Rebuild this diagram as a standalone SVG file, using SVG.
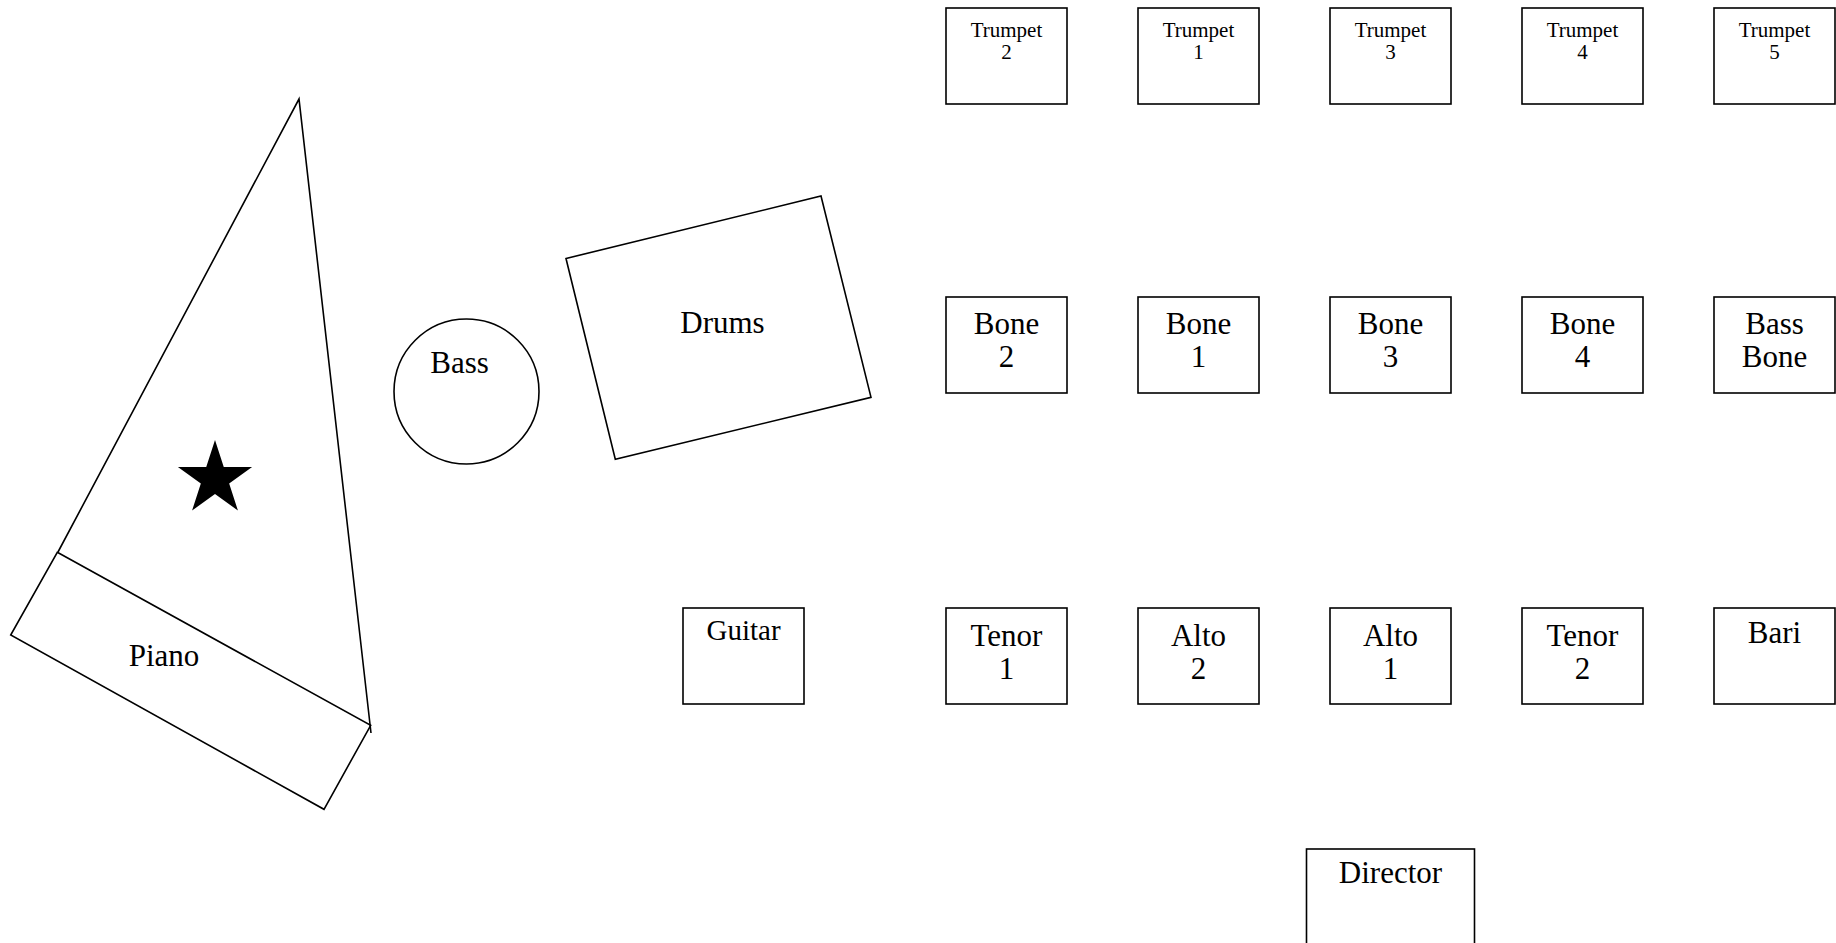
<svg xmlns="http://www.w3.org/2000/svg" width="1836" height="943" viewBox="0 0 1836 943">
<style>
.s{fill:none;stroke:#000;stroke-width:1.6}
text{font-family:"Liberation Serif","Times New Roman",serif;fill:#000;text-anchor:middle}
.t{font-size:21px}
.l{font-size:31px}
.g{font-size:29px}
</style>
<rect x="0" y="0" width="1836" height="943" fill="#fff"/>
<g id="piano">
<polyline class="s" points="58,552 299,99 371,733"/>
<polygon class="s" points="57.3,552.3 370.7,725.3 324,809.3 10.7,635"/>
<polygon points="215,440 223.76,466.95 252.09,466.95 229.17,483.6 237.92,510.55 215,493.9 192.08,510.55 200.83,483.6 177.91,466.95 206.24,466.95" fill="#000"/>
<text class="l" x="164" y="666">Piano</text>
</g>
<g id="bass">
<circle class="s" cx="466.5" cy="391.5" r="72.5"/>
<text class="l" x="459.5" y="372.5">Bass</text>
</g>
<g id="drums">
<polygon class="s" points="566,258.5 821,196 871,397.3 615.3,459.3"/>
<text class="l" x="722.5" y="333">Drums</text>
</g>
<g id="guitar">
<rect class="s" x="683" y="608" width="121" height="96"/>
<text class="g" x="743.5" y="640">Guitar</text>
</g>
<g id="trumpet2"><rect class="s" x="946" y="8" width="121" height="96"/><text class="t" x="1006.5" y="37">Trumpet</text><text class="t" x="1006.5" y="59">2</text></g>
<g id="trumpet1"><rect class="s" x="1138" y="8" width="121" height="96"/><text class="t" x="1198.5" y="37">Trumpet</text><text class="t" x="1198.5" y="59">1</text></g>
<g id="trumpet3"><rect class="s" x="1330" y="8" width="121" height="96"/><text class="t" x="1390.5" y="37">Trumpet</text><text class="t" x="1390.5" y="59">3</text></g>
<g id="trumpet4"><rect class="s" x="1522" y="8" width="121" height="96"/><text class="t" x="1582.5" y="37">Trumpet</text><text class="t" x="1582.5" y="59">4</text></g>
<g id="trumpet5"><rect class="s" x="1714" y="8" width="121" height="96"/><text class="t" x="1774.5" y="37">Trumpet</text><text class="t" x="1774.5" y="59">5</text></g>
<g id="bone2"><rect class="s" x="946" y="297" width="121" height="96"/><text class="l" x="1006.5" y="334">Bone</text><text class="l" x="1006.5" y="367">2</text></g>
<g id="bone1"><rect class="s" x="1138" y="297" width="121" height="96"/><text class="l" x="1198.5" y="334">Bone</text><text class="l" x="1198.5" y="367">1</text></g>
<g id="bone3"><rect class="s" x="1330" y="297" width="121" height="96"/><text class="l" x="1390.5" y="334">Bone</text><text class="l" x="1390.5" y="367">3</text></g>
<g id="bone4"><rect class="s" x="1522" y="297" width="121" height="96"/><text class="l" x="1582.5" y="334">Bone</text><text class="l" x="1582.5" y="367">4</text></g>
<g id="bassbone"><rect class="s" x="1714" y="297" width="121" height="96"/><text class="l" x="1774.5" y="334">Bass</text><text class="l" x="1774.5" y="367">Bone</text></g>
<g id="tenor1"><rect class="s" x="946" y="608" width="121" height="96"/><text class="l" x="1006.5" y="646">Tenor</text><text class="l" x="1006.5" y="679">1</text></g>
<g id="alto2"><rect class="s" x="1138" y="608" width="121" height="96"/><text class="l" x="1198.5" y="646">Alto</text><text class="l" x="1198.5" y="679">2</text></g>
<g id="alto1"><rect class="s" x="1330" y="608" width="121" height="96"/><text class="l" x="1390.5" y="646">Alto</text><text class="l" x="1390.5" y="679">1</text></g>
<g id="tenor2"><rect class="s" x="1522" y="608" width="121" height="96"/><text class="l" x="1582.5" y="646">Tenor</text><text class="l" x="1582.5" y="679">2</text></g>
<g id="bari"><rect class="s" x="1714" y="608" width="121" height="96"/><text class="l" x="1774.5" y="643">Bari</text></g>
<g id="director"><rect class="s" x="1306.5" y="849" width="168" height="120"/><text class="l" x="1390.5" y="883">Director</text></g>
<g id="connectors"></g>
</svg>
